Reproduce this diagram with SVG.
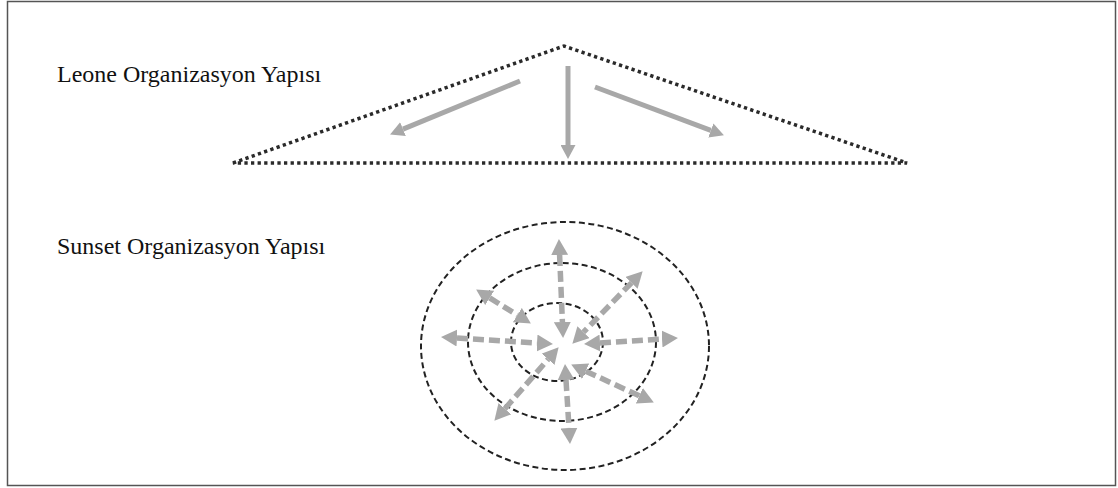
<svg xmlns="http://www.w3.org/2000/svg" width="1118" height="488" viewBox="0 0 1118 488">
<style>
.lbl{font-family:"Liberation Serif","Times New Roman",serif;font-size:24px;fill:#111}
.dot{fill:none;stroke:#2a2a2a;stroke-width:3.5;stroke-dasharray:3.3 3.3}
.ring{fill:none;stroke:#222;stroke-width:2;stroke-dasharray:6 3.5}
.solid{fill:none;stroke:#a8a8a8;stroke-width:5}
.dash{fill:none;stroke:#a8a8a8;stroke-width:5.5;stroke-dasharray:11 5}
</style>
<defs>
<marker id="hs" viewBox="0 -7.5 14 15" refX="0" refY="0" markerWidth="14" markerHeight="15" markerUnits="userSpaceOnUse" orient="auto"><path d="M0,-7.5 L14,0 L0,7.5 z" fill="#a8a8a8"/></marker>
<marker id="hd" viewBox="0 -8.5 16 17" refX="0" refY="0" markerWidth="16" markerHeight="17" markerUnits="userSpaceOnUse" orient="auto-start-reverse"><path d="M0,-8.5 L16,0 L0,8.5 z" fill="#a8a8a8"/></marker>
</defs>
<rect x="7.5" y="1.5" width="1108" height="484" fill="#fff" stroke="#555" stroke-width="1.5"/>
<g id="leone-label"><text class="lbl" x="57" y="82">Leone Organizasyon Yapısı</text></g>
<g id="sunset-label"><text class="lbl" x="57" y="254">Sunset Organizasyon Yapısı</text></g>
<g id="leone-triangle"><path class="dot" d="M233,163 L564,46 L907,163 Z"/></g>
<g id="sunset-rings">
<ellipse class="ring" cx="565" cy="346" rx="144" ry="124"/>
<ellipse class="ring" cx="562" cy="342" rx="94" ry="79"/>
<ellipse class="ring" cx="557" cy="342" rx="46" ry="39"/>
</g>
<g id="connectors">
<line class="solid" x1="520" y1="81" x2="403" y2="129.1" marker-end="url(#hs)"/>
<line class="solid" x1="568" y1="66" x2="568" y2="145" marker-end="url(#hs)"/>
<line class="solid" x1="595" y1="87" x2="710.8" y2="130.4" marker-end="url(#hs)"/>
<line class="dash" x1="559.6" y1="255" x2="562.4" y2="322" marker-start="url(#hd)" marker-end="url(#hd)"/>
<line class="dash" x1="631.5" y1="282.8" x2="583.5" y2="332.2" marker-start="url(#hd)" marker-end="url(#hd)"/>
<line class="dash" x1="489.7" y1="297.9" x2="517.3" y2="315.1" marker-start="url(#hd)" marker-end="url(#hd)"/>
<line class="dash" x1="457" y1="338" x2="537" y2="343" marker-start="url(#hd)" marker-end="url(#hd)"/>
<line class="dash" x1="600" y1="343" x2="662" y2="339" marker-start="url(#hd)" marker-end="url(#hd)"/>
<line class="dash" x1="504.9" y1="408.7" x2="548.1" y2="359.3" marker-start="url(#hd)" marker-end="url(#hd)"/>
<line class="dash" x1="566" y1="380" x2="569" y2="428" marker-start="url(#hd)" marker-end="url(#hd)"/>
<line class="dash" x1="585.7" y1="371.2" x2="639.3" y2="395.8" marker-start="url(#hd)" marker-end="url(#hd)"/>
</g>
</svg>
